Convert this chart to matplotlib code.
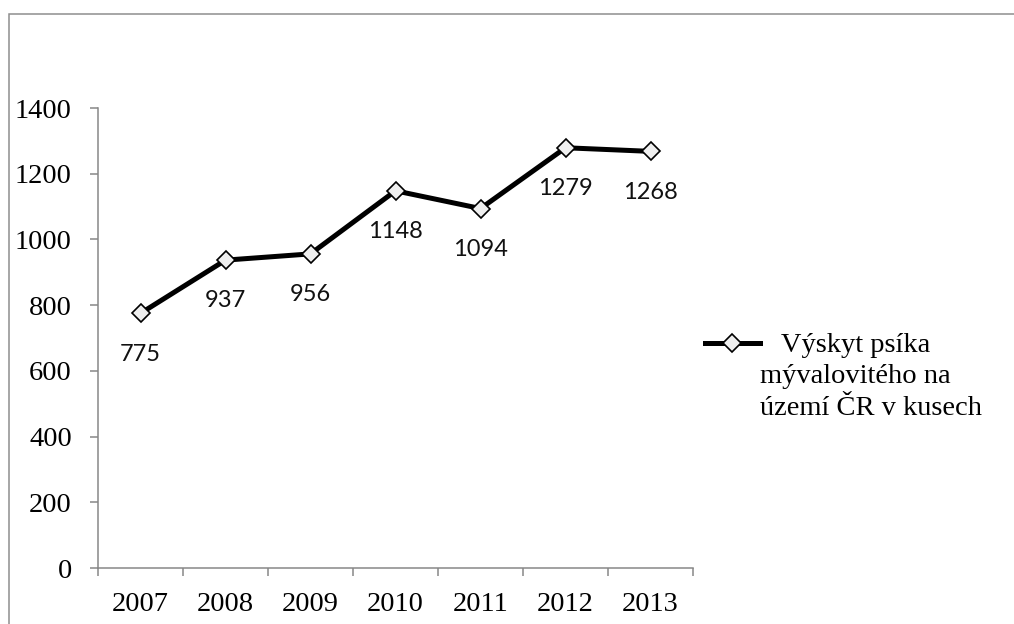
import matplotlib
matplotlib.use("Agg")
import matplotlib.pyplot as plt
from matplotlib.lines import Line2D
from matplotlib.patches import Rectangle

# Data
years = ["2007", "2008", "2009", "2010", "2011", "2012", "2013"]
counts = [775, 937, 956, 1148, 1094, 1279, 1268]
series_label = "   Výskyt psíka\nmývalovitého na\núzemí ČR v kusech"
y_ticks = [0, 200, 400, 600, 800, 1000, 1200, 1400]

W, H = 1014, 624
fig = plt.figure(figsize=(W / 100, H / 100), dpi=100)
fig.patch.set_facecolor("white")

def fx(px):
    return px / W

def fy(py):
    return 1 - py / H

ax = fig.add_axes([fx(98), fy(568), fx(693) - fx(98), fy(108) - fy(568)])

serif = "Liberation Serif"
label_font = "Lato"
axis_grey = "#878787"

x = list(range(len(years)))
ax.plot(x, counts, color="black", lw=3.6, marker="D", markersize=9.6,
        markerfacecolor="#efefef", markeredgecolor="black", markeredgewidth=1.2,
        solid_joinstyle="miter", zorder=3, clip_on=False)

for i, v in enumerate(counts):
    ax.annotate(str(v), (i, v), xytext=(0, -34), textcoords="offset points",
                ha="center", va="baseline", fontfamily=label_font, fontsize=17,
                color="#111111")

ax.set_xlim(-0.5, len(years) - 0.5)
ax.set_ylim(0, 1400)

# category boundaries carry the tick marks, centres carry the labels
ax.set_xticks([i - 0.5 for i in range(len(years) + 1)])
ax.set_xticklabels([])
ax.set_xticks(x, minor=True)
ax.set_xticklabels(years, minor=True, fontfamily=serif, fontsize=20.5)
ax.tick_params(axis="x", which="major", direction="out", length=5.5, width=1.1,
               color=axis_grey)
ax.tick_params(axis="x", which="minor", length=0, pad=17.6)

ax.set_yticks(y_ticks)
ax.set_yticklabels([str(t) for t in y_ticks], fontfamily=serif, fontsize=20.5)
ax.tick_params(axis="y", direction="out", length=5.8, width=1.1, color=axis_grey,
               pad=13)

for side in ("top", "right"):
    ax.spines[side].set_visible(False)
for side in ("left", "bottom"):
    ax.spines[side].set_color(axis_grey)
    ax.spines[side].set_linewidth(1.1)

# legend: sample line with marker, then the wrapped series name
lx0, lxc, lx1, ly = fx(705), fx(732), fx(760), fy(343)
fig.add_artist(Line2D([lx0, lxc, lx1], [ly, ly, ly], transform=fig.transFigure,
                      color="black", lw=3.6, marker="D", markevery=[1],
                      markersize=8.8, markerfacecolor="#efefef",
                      markeredgecolor="black", markeredgewidth=1.2))
# baseline of the last wrapped line
fig.text(fx(760), fy(415), series_label, ha="left", va="baseline",
         fontfamily=serif, fontsize=20.5, linespacing=1.35)

# outer chart frame
fig.add_artist(Rectangle((fx(9), -0.5), 2, fy(14) + 0.5, transform=fig.transFigure,
                         fill=False, edgecolor="#8e8e8e", lw=1.1))

fig.savefig("out.png", dpi=100, facecolor="white")
